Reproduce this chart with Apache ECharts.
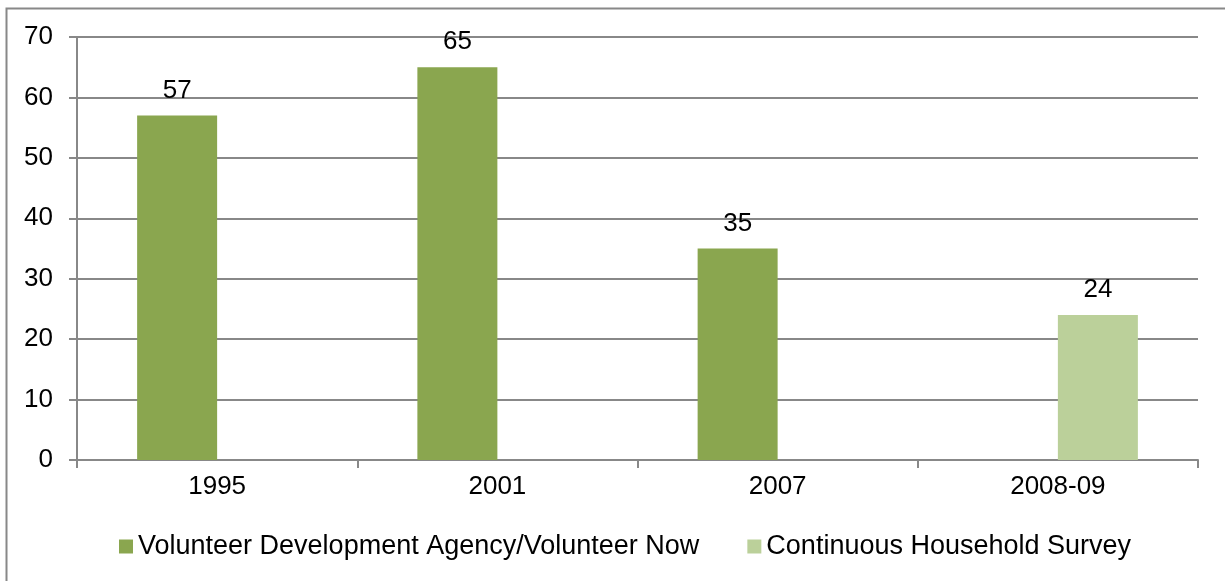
<!DOCTYPE html>
<html>
<head>
    <meta charset="utf-8">
    <title>Volunteering rates</title>
    <script src="https://cdn.jsdelivr.net/npm/echarts@6/dist/echarts.min.js"></script>
    <style>
        html, body { margin: 0; padding: 0; background: #fff; }
        #main { width: 1225px; height: 581px; }
    </style>
</head>
<body>
<div id="main"></div>
<script type="text/javascript">
    var years = ['1995', '2001', '2007', '2008-09'];
    var vdaValues = [57, 65, 35, null];
    var chsValues = [null, null, null, 24];
    var seriesNames = ['Volunteer Development Agency/Volunteer Now', 'Continuous Household Survey'];

    var myChart = echarts.init(document.getElementById('main'));
    var font = 'Liberation Sans, Arial, sans-serif';

    var labelStyle = {
        show: true,
        position: 'top',
        distance: 12,
        color: '#000',
        fontSize: 26,
        fontFamily: font
    };

    var option = {
        animation: false,
        color: ['#8aa64f', '#bbd09a'],
        graphic: [{
            type: 'rect',
            shape: {x: 6.5, y: 8.5, width: 1240, height: 600},
            style: {fill: 'none', stroke: '#888', lineWidth: 2}
        }],
        grid: {left: 77, right: 27, top: 37, bottom: 121},
        legend: {
            data: seriesNames,
            top: 528,
            left: 114,
            itemWidth: 14,
            itemHeight: 14,
            itemGap: 48,
            icon: 'rect',
            textStyle: {fontSize: 27, fontFamily: font, color: '#000'}
        },
        xAxis: {
            type: 'category',
            data: years,
            axisLine: {lineStyle: {color: '#888', width: 2}},
            axisTick: {show: true, length: 8, lineStyle: {color: '#888', width: 2}},
            axisLabel: {fontSize: 26, fontFamily: font, color: '#000', margin: 14}
        },
        yAxis: {
            type: 'value',
            min: 0,
            max: 70,
            interval: 10,
            axisLine: {show: true, lineStyle: {color: '#888', width: 2}},
            axisTick: {show: true, length: 8, lineStyle: {color: '#888', width: 2}},
            axisLabel: {fontSize: 26, fontFamily: font, color: '#000', margin: 24},
            splitLine: {lineStyle: {color: '#888', width: 2}}
        },
        series: [
            {
                name: seriesNames[0],
                type: 'bar',
                barWidth: 80,
                barGap: 0,
                data: vdaValues,
                label: labelStyle
            },
            {
                name: seriesNames[1],
                type: 'bar',
                barWidth: 80,
                data: chsValues,
                label: labelStyle
            }
        ]
    };
    myChart.setOption(option);
</script>
</body>
</html>
